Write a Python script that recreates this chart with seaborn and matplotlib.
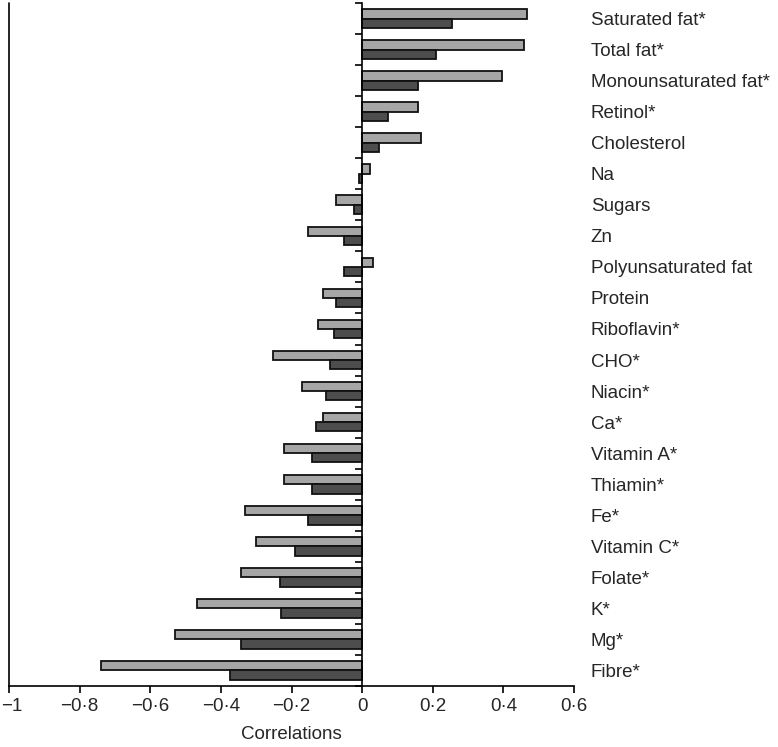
import numpy as np
import pandas as pd
import seaborn as sns
import matplotlib.pyplot as plt
import matplotlib.transforms as mtransforms

nutrients = ["Saturated fat*", "Total fat*", "Monounsaturated fat*", "Retinol*",
             "Cholesterol", "Na", "Sugars", "Zn", "Polyunsaturated fat", "Protein",
             "Riboflavin*", "CHO*", "Niacin*", "Ca*", "Vitamin A*", "Thiamin*",
             "Fe*", "Vitamin C*", "Folate*", "K*", "Mg*", "Fibre*"]
# light grey bars (upper bar of each pair)
light = [0.466, 0.459, 0.397, 0.159, 0.168, 0.022, -0.074, -0.153, 0.031, -0.112,
         -0.125, -0.253, -0.171, -0.112, -0.221, -0.221, -0.332, -0.301, -0.342,
         -0.469, -0.530, -0.739]
# dark grey bars (lower bar of each pair)
dark = [0.255, 0.209, 0.159, 0.072, 0.048, -0.008, -0.023, -0.052, -0.052, -0.074,
        -0.081, -0.091, -0.101, -0.131, -0.141, -0.142, -0.154, -0.191, -0.232,
        -0.231, -0.342, -0.373]

xticks = [-1, -0.8, -0.6, -0.4, -0.2, 0, 0.2, 0.4, 0.6]
xlabels = ["\u22121", "\u22120\u00b78", "\u22120\u00b76", "\u22120\u00b74", "\u22120\u00b72",
           "0", "0\u00b72", "0\u00b74", "0\u00b76"]

df = pd.DataFrame({
    "nutrient": nutrients * 2,
    "corr": light + dark,
    "series": ["light"] * len(nutrients) + ["dark"] * len(nutrients),
})

sns.set_style("white")
plt.rcParams['font.family'] = ['Liberation Sans', 'DejaVu Sans']

fig = plt.figure(figsize=(7.78, 7.47), dpi=100)
ax = fig.add_axes([9/778, 61/747, 565/778, 683/747])

sns.barplot(data=df, y="nutrient", x="corr", hue="series", orient="h",
            palette=["#a6a6a6", "#4d4d4d"], width=0.6, saturation=1,
            edgecolor="#111111", linewidth=1.3, legend=False, ax=ax)

ax.set_xlim(-1, 0.6)
ax.set_ylim(len(nutrients) - 0.5, -0.5)

# y axis sits on zero, ticks between categories, names on the right
ax.spines['left'].set_position(('data', 0))
ax.spines['right'].set_visible(False)
ax.spines['top'].set_visible(False)
for s in ['left', 'bottom']:
    ax.spines[s].set_color('black')
    ax.spines[s].set_linewidth(1.2)
ax.axvline(-1, color='black', lw=1.2, clip_on=False)

ax.set_yticks(np.arange(-0.5, len(nutrients), 1))
ax.set_yticks(range(len(nutrients)), minor=True)
ax.set_yticklabels(nutrients, minor=True)
ax.tick_params(axis='y', which='major', left=True, right=False, labelleft=False,
               length=5, width=1.2, color='black', direction='out')
ax.tick_params(axis='y', which='minor', left=False, right=False, labelleft=False,
               labelright=True, pad=10, labelsize=13.5)

ax.set_xticks(xticks, xlabels)
ax.tick_params(axis='x', bottom=True, length=5, width=1.2, color='black',
               labelsize=13.5, pad=3.5)
# keep the "-1" label inside the figure edge
first = ax.get_xticklabels()[0]
first.set_transform(first.get_transform() +
                    mtransforms.ScaledTranslation(3/100, 0, fig.dpi_scale_trans))
ax.set_xlabel("Correlations", fontsize=13.5, labelpad=8)
ax.set_ylabel("")

plt.savefig("out.png", dpi=100)
